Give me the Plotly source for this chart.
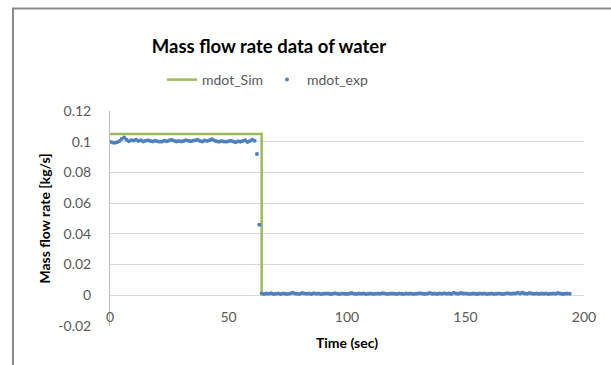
import plotly.graph_objects as go

# ---- data ----
sim_time = [0, 64, 64]
sim_mdot = [0.105, 0.105, 0.0]

exp_high = [
    0.1000, 0.0995, 0.0993, 0.0996, 0.1005, 0.1020, 0.1028, 0.1012, 0.1003, 0.1010,
    0.1008, 0.1012, 0.1005, 0.1009, 0.1002, 0.1006, 0.1010, 0.1004, 0.1001, 0.1007,
    0.1003, 0.0999, 0.1002, 0.1006, 0.1003, 0.1008, 0.1012, 0.1006, 0.1002, 0.1005,
    0.1001, 0.1004, 0.1009, 0.1007, 0.1003, 0.1006, 0.1010, 0.1013, 0.1005, 0.1002,
    0.1008, 0.1004, 0.1009, 0.1016, 0.1008, 0.1003, 0.1000, 0.1005, 0.1002, 0.0999,
    0.1003, 0.1006, 0.1001, 0.0997, 0.1003, 0.1000, 0.1004, 0.1010, 0.0998, 0.1005,
    0.1012, 0.1006,
]
exp_transition = [0.092, 0.046]
exp_low = [
    0.0012, 0.0009, 0.0011, 0.0010, 0.0013, 0.0009, 0.0010, 0.0012, 0.0008, 0.0011,
    0.0010, 0.0009, 0.0011, 0.0016, 0.0012, 0.0010, 0.0009, 0.0015, 0.0011, 0.0010,
    0.0012, 0.0009, 0.0014, 0.0010, 0.0011, 0.0009, 0.0010, 0.0012, 0.0011, 0.0009,
    0.0010, 0.0013, 0.0010, 0.0009, 0.0011, 0.0010, 0.0008, 0.0011, 0.0015, 0.0010,
    0.0009, 0.0011, 0.0010, 0.0012, 0.0009, 0.0010, 0.0011, 0.0009, 0.0010, 0.0012,
    0.0010, 0.0014, 0.0011, 0.0009, 0.0010, 0.0012, 0.0010, 0.0009, 0.0011, 0.0010,
    0.0009, 0.0011, 0.0010, 0.0012, 0.0009, 0.0010, 0.0011, 0.0013, 0.0010, 0.0009,
    0.0011, 0.0015, 0.0010, 0.0012, 0.0009, 0.0011, 0.0010, 0.0014, 0.0010, 0.0012,
    0.0009, 0.0016, 0.0011, 0.0010, 0.0015, 0.0011, 0.0012, 0.0010, 0.0009, 0.0011,
    0.0010, 0.0009, 0.0011, 0.0010, 0.0012, 0.0009, 0.0010, 0.0011, 0.0009, 0.0010,
    0.0012, 0.0010, 0.0009, 0.0011, 0.0013, 0.0010, 0.0012, 0.0011, 0.0016, 0.0012,
    0.0017, 0.0011, 0.0010, 0.0015, 0.0012, 0.0010, 0.0011, 0.0009, 0.0012, 0.0010,
    0.0011, 0.0009, 0.0010, 0.0012, 0.0010, 0.0015, 0.0011, 0.0009, 0.0010, 0.0011,
    0.0010,
]
exp_time = list(range(0, 62)) + [62, 63] + list(range(64, 195))
exp_mdot = exp_high + exp_transition + exp_low

y_ticks = [-0.02, 0, 0.02, 0.04, 0.06, 0.08, 0.1, 0.12]
y_tick_text = ["-0.02", "0", "0.02", "0.04", "0.06", "0.08", "0.1", "0.12"]
x_ticks = [0, 50, 100, 150, 200]

FONT = "Lato"
W, H = 611, 365
L, R, T, B = 110, 584, 111, 326


def px_x(p):
    return (p - L) / (R - L)


def px_y(p):
    return (B - p) / (B - T)


fig = go.Figure()
fig.add_trace(go.Scatter(
    x=sim_time, y=sim_mdot, mode="lines", name="mdot_Sim",
    line=dict(color="#9BBB59", width=2.5),
))
fig.add_trace(go.Scatter(
    x=exp_time, y=exp_mdot, mode="markers", name="mdot_exp",
    marker=dict(color="#4F81BD", size=4),
))

fig.update_layout(
    width=W, height=H,
    margin=dict(l=L, r=W - R, t=T, b=H - B, pad=0),
    paper_bgcolor="white", plot_bgcolor="white",
    font=dict(family=FONT, size=14, color="#595959"),
    title=dict(
        text="<b>Mass flow rate data of water</b>",
        font=dict(family=FONT, size=18.5, color="#000000"),
        x=px_x(269), xref="paper", xanchor="center",
        y=1 - 47 / H, yref="container", yanchor="middle",
    ),
    showlegend=True,
    legend=dict(
        orientation="h", x=px_x(162), xanchor="left",
        y=px_y(80), yanchor="middle",
        font=dict(family=FONT, size=14, color="#595959"),
        entrywidth=60, entrywidthmode="pixels",
        bgcolor="rgba(0,0,0,0)",
    ),
    xaxis=dict(
        range=[0, 200], tickvals=x_ticks, showgrid=False, zeroline=False,
        showline=False, anchor="free", position=px_y(295.5),
        ticks="outside", ticklen=9, tickcolor="rgba(0,0,0,0)",
        tickfont=dict(family=FONT, size=14, color="#595959"),
        title=dict(text="<b>Time (sec)</b>", standoff=13,
                   font=dict(family=FONT, size=14, color="#000000")),
    ),
    yaxis=dict(
        range=[-0.02, 0.12], tickvals=y_ticks, ticktext=y_tick_text,
        showgrid=True, gridcolor="#d9d9d9", gridwidth=1,
        zeroline=True, zerolinecolor="#d9d9d9", zerolinewidth=1,
        showline=True, linecolor="#bfbfbf", linewidth=1,
        ticks="outside", ticklen=15, tickcolor="rgba(0,0,0,0)",
        tickfont=dict(family=FONT, size=14, color="#595959"),
        title=dict(text="<b>Mass flow rate [kg/s]</b>", standoff=4,
                   font=dict(family=FONT, size=14, color="#000000")),
    ),
    shapes=[dict(
        type="path", xref="paper", yref="paper",
        path=f"M {px_x(13)},{px_y(366)} L {px_x(13)},{px_y(8.5)} L {px_x(612)},{px_y(8.5)}",
        line=dict(color="#8c8c8c", width=2),
    )],
)

fig.write_html("out.html")
